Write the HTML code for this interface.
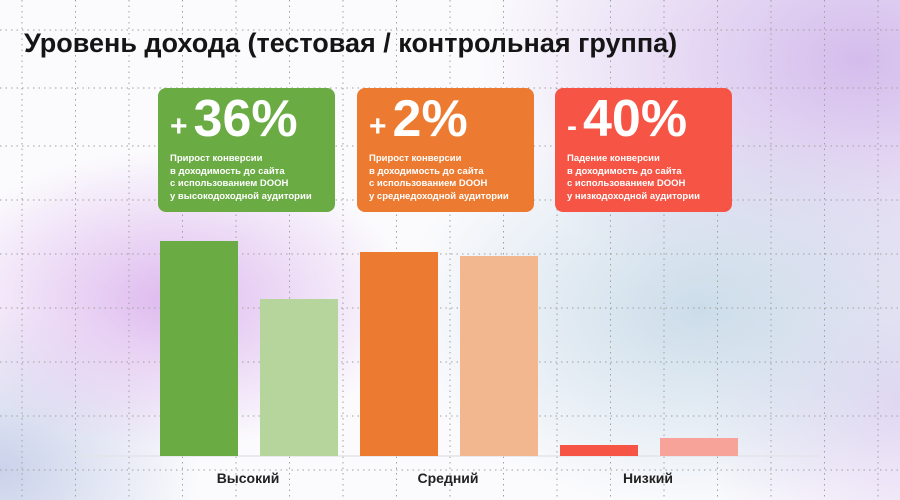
<!DOCTYPE html>
<html><head><meta charset="utf-8">
<style>
html,body{margin:0;padding:0}
body{width:900px;height:500px;overflow:hidden;position:relative;font-family:"Liberation Sans","DejaVu Sans",sans-serif;
background:
radial-gradient(ellipse 240px 150px at 170px 300px, rgba(215,170,235,0.8), rgba(215,170,235,0) 100%),
radial-gradient(ellipse 200px 160px at 0px 470px, rgba(190,200,230,0.8), rgba(190,200,230,0) 100%),
radial-gradient(ellipse 300px 200px at 700px 310px, rgba(195,215,230,0.85), rgba(195,215,230,0) 100%),
radial-gradient(ellipse 380px 260px at 860px 60px, rgba(210,185,235,0.95), rgba(210,185,235,0) 100%),
radial-gradient(ellipse 200px 200px at 900px 400px, rgba(220,200,240,0.7), rgba(220,200,240,0) 100%),
#fbfbfd;}
svg{position:absolute;left:0;top:0}
.title{position:absolute;left:24px;top:28px;font-size:27px;font-weight:bold;color:#151515;letter-spacing:0px;white-space:nowrap;font-family:"Liberation Sans","DejaVu Sans",sans-serif}
.card{position:absolute;top:88px;height:124px;width:177px;border-radius:8px;color:#fff}
.big{position:absolute;left:12px;top:1px;font-size:52px;font-weight:bold;white-space:nowrap}
.big .s{font-size:30px;margin-right:6px}
.desc{position:absolute;left:12px;top:65px;font-size:9.5px;line-height:12.5px;font-weight:bold;white-space:nowrap}
.cat{position:absolute;top:470px;font-size:14px;font-weight:bold;color:#222;transform:translateX(-50%);white-space:nowrap}
</style></head>
<body>
<svg id="chart" width="900" height="500"></svg>
<div class="title">Уровень дохода (тестовая / контрольная группа)</div>
<div class="card" style="left:158px;background:#6aab44">
 <div class="big"><span class="s">+</span>36%</div>
 <div class="desc">Прирост конверсии<br>в доходимость до сайта<br>с использованием DOOH<br>у высокодоходной аудитории</div>
</div>
<div class="card" style="left:357px;background:#ec7b31">
 <div class="big"><span class="s">+</span>2%</div>
 <div class="desc">Прирост конверсии<br>в доходимость до сайта<br>с использованием DOOH<br>у среднедоходной аудитории</div>
</div>
<div class="card" style="left:555px;background:#f65444">
 <div class="big"><span class="s">-</span>40%</div>
 <div class="desc">Падение конверсии<br>в доходимость до сайта<br>с использованием DOOH<br>у низкодоходной аудитории</div>
</div>
<div id="cats"></div>
<script>
const categories = ["Высокий", "Средний", "Низкий"];
const testValues = [215, 204, 11];
const controlValues = [157, 200, 18];
const testColors = ["#6aab44", "#ec7b31", "#f65444"];
const controlColors = ["#b6d59c", "#f2b78e", "#f8a39a"];

const NS = "http://www.w3.org/2000/svg";
const svg = document.getElementById("chart");
const baseY = 456, scale = 1.0;
function yOf(v){ return baseY - v*scale; }
function xOf(i){ return 160 + i*200; }

for (let x = 22; x < 900; x += 53.5) {
  const l = document.createElementNS(NS, "line");
  l.setAttribute("x1", x); l.setAttribute("x2", x); l.setAttribute("y1", 0); l.setAttribute("y2", 500);
  l.setAttribute("stroke", "#a0a0a0"); l.setAttribute("stroke-width", "1"); l.setAttribute("stroke-dasharray", "1.5 4");
  
  
  svg.appendChild(l);
}
[30, 88, 146, 200, 254, 308, 362, 416, 470].forEach(y => {
  const l = document.createElementNS(NS, "line");
  l.setAttribute("x1", 0); l.setAttribute("x2", 900); l.setAttribute("y1", y); l.setAttribute("y2", y);
  l.setAttribute("stroke", "#a0a0a0"); l.setAttribute("stroke-width", "1"); l.setAttribute("stroke-dasharray", "1.5 4");
  
  
  svg.appendChild(l);
});
const base = document.createElementNS(NS, "line");
base.setAttribute("x1", 75); base.setAttribute("x2", 820); base.setAttribute("y1", baseY); base.setAttribute("y2", baseY);
base.setAttribute("stroke", "#e4e4ea"); base.setAttribute("stroke-width", "1.5");


svg.appendChild(base);

const catsDiv = document.getElementById("cats");
categories.forEach((c, i) => {
  const x = xOf(i);
  const r1 = document.createElementNS(NS, "rect");
  r1.setAttribute("x", x); r1.setAttribute("y", yOf(testValues[i])); r1.setAttribute("width", 78);
  r1.setAttribute("height", baseY - yOf(testValues[i])); r1.setAttribute("fill", testColors[i]);
  
  
  svg.appendChild(r1);
  const r2 = document.createElementNS(NS, "rect");
  r2.setAttribute("x", x + 100); r2.setAttribute("y", yOf(controlValues[i])); r2.setAttribute("width", 78);
  r2.setAttribute("height", baseY - yOf(controlValues[i])); r2.setAttribute("fill", controlColors[i]);
  
  
  svg.appendChild(r2);
  const d = document.createElement("div");
  d.className = "cat"; d.style.left = (x + 88) + "px"; d.textContent = c;
  
  
  catsDiv.appendChild(d);
});
</script>
</body></html>
